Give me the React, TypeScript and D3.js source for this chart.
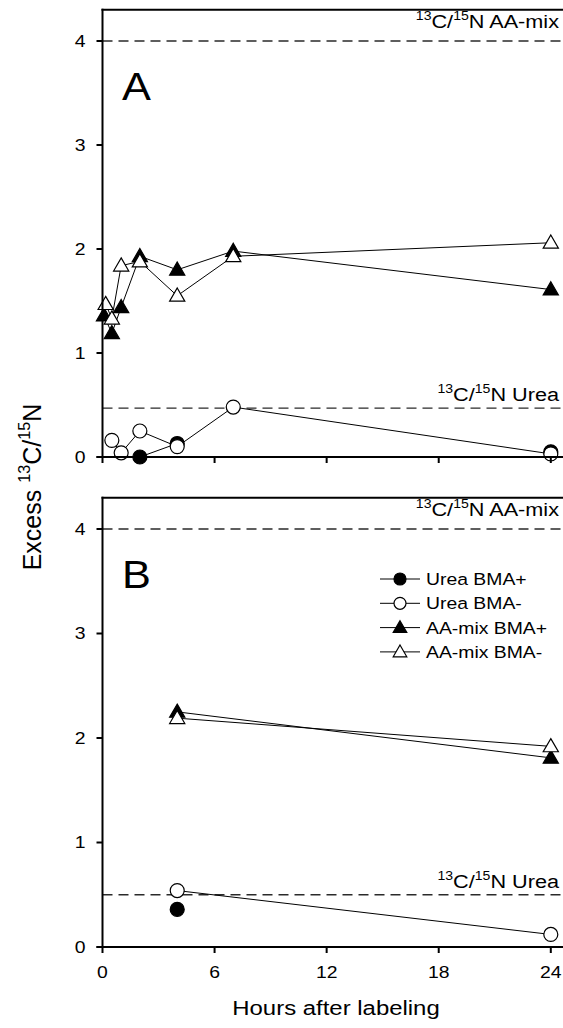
import React from "react";
import * as d3 from "d3";

// ---------- data ----------
const xTicks = [0, 6, 12, 18, 24];
const yTicks = [0, 1, 2, 3, 4];
const seriesNames = ["Urea BMA+", "Urea BMA-", "AA-mix BMA+", "AA-mix BMA-"];

// Panel A (NaN = missing value, breaks the line)
const aUreaPlusH = [2, 4, 7, 24];
const aUreaPlusV = [0.0, 0.13, NaN, 0.05];
const aUreaMinusH = [0.5, 1, 2, 4, 7, 24];
const aUreaMinusV = [0.16, 0.04, 0.25, 0.1, 0.48, 0.03];
const aAAPlusH = [0.08, 0.5, 1, 2, 4, 7, 24];
const aAAPlusV = [1.36, 1.19, 1.44, 1.93, 1.8, 1.98, 1.61];
const aAAMinusH = [0.17, 0.5, 1, 2, 4, 7, 24];
const aAAMinusV = [1.47, 1.33, 1.84, 1.88, 1.55, 1.93, 2.06];

// Panel B
const bUreaPlusH = [4];
const bUreaPlusV = [0.36];
const bUreaMinusH = [4, 24];
const bUreaMinusV = [0.54, 0.12];
const bAAPlusH = [4, 24];
const bAAPlusV = [2.25, 1.81];
const bAAMinusH = [4, 24];
const bAAMinusV = [2.19, 1.92];

// reference ratios
const refAAmix = 4;
const refUreaA = 0.47;
const refUreaB = 0.5;

// ---------- layout ----------
const W = 563;
const H = 1028;
const FONT = "'Liberation Sans', Arial, Helvetica, sans-serif";
const SX = 1.14; // horizontal stretch of the original text

const x = d3.scaleLinear().domain([0, 24]).range([102.5, 550.8]);
const xRight = W;

const panels = [
  {
    key: "A",
    y: d3.scaleLinear().domain([0, 4.3]).range([457, 457 - 4.3 * 104]),
    series: [
      [aUreaPlusH, aUreaPlusV],
      [aUreaMinusH, aUreaMinusV],
      [aAAPlusH, aAAPlusV],
      [aAAMinusH, aAAMinusV],
    ],
    urea: refUreaA,
    legend: false,
  },
  {
    key: "B",
    y: d3.scaleLinear().domain([0, 4.3]).range([947, 947 - 4.3 * 104.5]),
    series: [
      [bUreaPlusH, bUreaPlusV],
      [bUreaMinusH, bUreaMinusV],
      [bAAPlusH, bAAPlusV],
      [bAAMinusH, bAAMinusV],
    ],
    urea: refUreaB,
    legend: true,
  },
];

const markerKinds = [
  { shape: "circle", filled: true },
  { shape: "circle", filled: false },
  { shape: "triangle", filled: true },
  { shape: "triangle", filled: false },
];

function Marker({ kind, cx, cy, r, tri }: any) {
  const fill = kind.filled ? "#000" : "#fff";
  if (kind.shape === "circle") {
    return <circle cx={cx} cy={cy} r={r} fill={fill} stroke="#000" strokeWidth={1.2} />;
  }
  const p = d3.symbol().type(d3.symbolTriangle).size(tri)();
  return (
    <path d={p as string} transform={`translate(${cx},${cy + 1})`} fill={fill} stroke="#000" strokeWidth={1.2} strokeLinejoin="miter" />
  );
}

function SText({ x: tx, y: ty, size, anchor = "start", children }: any) {
  return (
    <text
      transform={`translate(${tx},${ty}) scale(${SX},1)`}
      fontSize={size}
      textAnchor={anchor}
      fontFamily={FONT}
      fill="#000"
    >
      {children}
    </text>
  );
}

function Ratio({ label, size }: any) {
  const s = size * 0.65;
  const up = size * 0.42;
  return (
    <>
      <tspan fontSize={s} dy={-up}>13</tspan>
      <tspan dy={up}>C/</tspan>
      <tspan fontSize={s} dy={-up}>15</tspan>
      <tspan dy={up}>{label}</tspan>
    </>
  );
}

export default function App() {
  const line = (y: any) =>
    d3
      .line<[number, number]>()
      .defined((d) => !isNaN(d[1]))
      .x((d) => x(d[0]))
      .y((d) => y(d[1]));

  return (
    <svg
      width={W}
      height={H}
      style={{ position: "absolute", left: 0, top: 0, background: "#fff" }}
    >
      <rect x={0} y={0} width={W} height={H} fill="#fff" />
      {panels.map((p) => {
        const y = p.y;
        const y0 = y(0);
        const yTop = y(4.3);
        const gen = line(y);
        return (
          <g key={p.key}>
            {/* reference dashed lines */}
            <line x1={x(0)} x2={xRight} y1={y(refAAmix)} y2={y(refAAmix)} stroke="#2a2a2a" strokeWidth={1.3} strokeDasharray="10,6" />
            <line x1={x(0)} x2={xRight} y1={y(p.urea)} y2={y(p.urea)} stroke="#2a2a2a" strokeWidth={1.3} strokeDasharray="10,6" />
            <SText x={559} y={y(refAAmix) - 13} size={19} anchor="end">
              <Ratio label="N AA-mix" size={19} />
            </SText>
            <SText x={559} y={y(p.urea) - 7} size={19} anchor="end">
              <Ratio label="N Urea" size={19} />
            </SText>

            {/* series */}
            {p.series.map(([hs, vs]: any, i: number) => {
              const pts: [number, number][] = hs.map((h: number, j: number) => [h, vs[j]]);
              const shown = pts.filter((d) => !isNaN(d[1]));
              return (
                <g key={i}>
                  {shown.length > 1 && <path d={gen(pts) as string} fill="none" stroke="#000" strokeWidth={1} />}
                  {shown.map((d, j) => (
                    <Marker key={j} kind={markerKinds[i]} cx={x(d[0])} cy={y(d[1])} r={7} tri={100} />
                  ))}
                </g>
              );
            })}

            {/* frame / axes */}
            <line x1={x(0) - 1} x2={xRight} y1={yTop} y2={yTop} stroke="#000" strokeWidth={2} />
            <line x1={x(0)} x2={x(0)} y1={yTop - 1} y2={y0 + 1} stroke="#000" strokeWidth={2} />
            <line x1={x(0) - 6} x2={xRight} y1={y0} y2={y0} stroke="#000" strokeWidth={2} />
            {yTicks.map((t) => (
              <g key={t}>
                <line x1={x(0) - 6} x2={x(0)} y1={y(t)} y2={y(t)} stroke="#000" strokeWidth={2} />
                <SText x={85.5} y={y(t) + 5.8} size={17} anchor="end">{t}</SText>
              </g>
            ))}
            {xTicks.map((t) => (
              <line key={t} x1={x(t)} x2={x(t)} y1={y0} y2={y0 + 6} stroke="#000" strokeWidth={2} />
            ))}

            {/* panel letter */}
            <SText x={122} y={yTop + 90} size={38}>{p.key}</SText>

            {/* legend */}
            {p.legend &&
              seriesNames.map((n, i) => {
                const ly = 579 + i * 24.3;
                return (
                  <g key={n}>
                    <line x1={380} x2={420} y1={ly} y2={ly} stroke="#000" strokeWidth={1} />
                    <Marker kind={markerKinds[i]} cx={400} cy={ly} r={6} tri={80} />
                    <SText x={426} y={ly + 6} size={17}>{n}</SText>
                  </g>
                );
              })}

            {/* x tick labels only on bottom panel */}
            {p.key === "B" &&
              xTicks.map((t) => (
                <SText key={t} x={x(t)} y={978} size={17} anchor="middle">{t}</SText>
              ))}
          </g>
        );
      })}

      {/* axis titles */}
      <SText x={336} y={1015} size={21} anchor="middle">Hours after labeling</SText>
      <text
        transform={`translate(41,487) rotate(-90) scale(1,1.05)`}
        fontSize={25}
        textAnchor="middle"
        fontFamily={FONT}
      >
        Excess <Ratio label="N" size={25} />
      </text>
    </svg>
  );
}
